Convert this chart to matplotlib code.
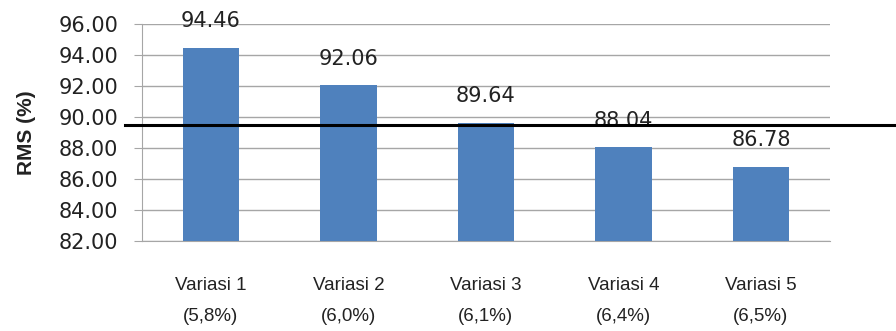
import numpy as np
import matplotlib.pyplot as plt

categories = ['Variasi 1\n(5,8%)', 'Variasi 2\n(6,0%)', 'Variasi 3\n(6,1%)',
              'Variasi 4\n(6,4%)', 'Variasi 5\n(6,5%)']
rms = [94.46, 92.06, 89.64, 88.04, 86.78]
batas = 89.5

plt.rcParams['font.family'] = ['DejaVu Sans']

fig = plt.figure(figsize=(8.96, 3.31), dpi=100)
ax = fig.add_axes([0.1585, 0.272, 0.7675, 0.655])

x = np.arange(len(categories))
bars = ax.bar(x, rms, width=0.41, color='#4F81BD', zorder=3)

for xi, v in zip(x, rms):
    ax.annotate('%.2f' % v, (xi, v), xytext=(0, 12), textcoords='offset points',
                ha='center', va='bottom', fontsize=15, color='#222222', zorder=4)

ax.set_ylim(82, 96)
ax.set_xlim(-0.5, len(categories) - 0.5)
ax.set_yticks(np.arange(82, 96.1, 2))
ax.set_yticklabels(['%.2f' % t for t in np.arange(82, 96.1, 2)])
ax.set_xticks(x)
ax.set_xticklabels(categories, fontsize=13.5, color='#222222', linespacing=2.05,
                   family='Liberation Sans')

ax.grid(axis='y', color='#a6a6a6', lw=1, zorder=0)
for s in ['top', 'right']:
    ax.spines[s].set_visible(False)
ax.spines['left'].set_color('#a6a6a6')
ax.spines['bottom'].set_color('#a6a6a6')
ax.tick_params(axis='y', length=6, color='#a6a6a6', labelsize=15,
               labelcolor='#222222', pad=11)
ax.tick_params(axis='x', length=0, pad=26)

ax.set_ylabel('RMS (%)', fontsize=15, fontweight='bold', color='#222222',
              family='Liberation Sans', labelpad=16)

# garis batas melintang sampai tepi kanan
ax.plot([-0.025, 1.1], [batas, batas], color='black', lw=2.2,
        transform=ax.get_yaxis_transform(), clip_on=False, zorder=5)

fig.savefig('out.png', dpi=100)
